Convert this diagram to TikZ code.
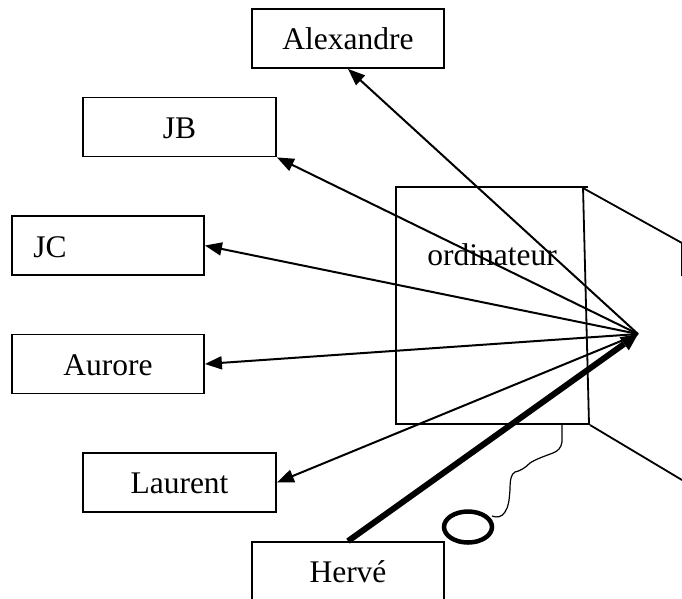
\documentclass[tikz,border=0pt]{standalone}
\usepackage{fontspec}
\setmainfont{Liberation Serif}
\usetikzlibrary{arrows.meta}
\begin{document}
\begin{tikzpicture}[x=1pt,y=-1pt,
  person/.style={draw,line width=1.8pt,rectangle,minimum width=192pt,minimum height=59pt,
    inner sep=0pt,text height=22pt,text depth=0pt,font=\fontsize{31.5}{36}\selectfont},
  link/.style={line width=2pt,-{Triangle[length=17pt,width=13pt]}},
  thicklink/.style={line width=6pt,-{Triangle[length=17pt,width=16pt,line width=0pt]}},
  frame/.style={line width=1.8pt},
  cable/.style={line width=1.2pt}]
\clip (0,0) rectangle (682,598);
\useasboundingbox (0,0) rectangle (682,598);
% computer
\draw[frame] (588,187) -- (396,187) -- (396,424) -- (590,424);
\draw[frame] (583,187) -- (589,424);
\draw[frame] (583,188) -- (682,243) -- (682,276);
\draw[frame] (590,425) -- (682,480);
\node[anchor=base,font=\fontsize{31.5}{36}\selectfont,inner sep=0pt] (ordi) at (492,265) {ordinateur};
% people
\node[person] (alex) at (348,38.5) {Alexandre};
\node[person,minimum width=193pt] (jb) at (179.5,127) {JB};
\node[person] (jc) at (108,245.5) {};
\node[anchor=base,font=\fontsize{31.5}{36}\selectfont,inner sep=0pt] (jct) at (50,257) {JC};
\node[person] (aur) at (108,364) {Aurore};
\node[person,minimum width=193pt] (laur) at (179.5,482.5) {Laurent};
\node[person] (herve) at (348,571.5) {Hervé};
\coordinate (hub) at (638,334);
% connectors
\draw[link] (hub) -- (alex.south);
\draw[link] (hub) -- (jb.south east);
\draw[link] (hub) -- (jc.east);
\draw[link] (hub) -- (aur.east);
\draw[link] (hub) -- (laur.east);
\draw[thicklink] (herve.north) -- (hub);
% cable and mouse
\draw[cable] (562,423) -- (562,442) .. controls (561,448) and (558,451) .. (553,453)
  .. controls (545,456) and (536,459) .. (530,463)
  .. controls (525,468) and (520,471) .. (515,472)
  .. controls (511,474) and (510,480) .. (510,490)
  .. controls (509,500) and (509,506) .. (505,512)
  .. controls (502,517) and (497,518) .. (492,516);
\draw[line width=4.5pt] (468,527) ellipse (24pt and 15.5pt);
\end{tikzpicture}
\end{document}
